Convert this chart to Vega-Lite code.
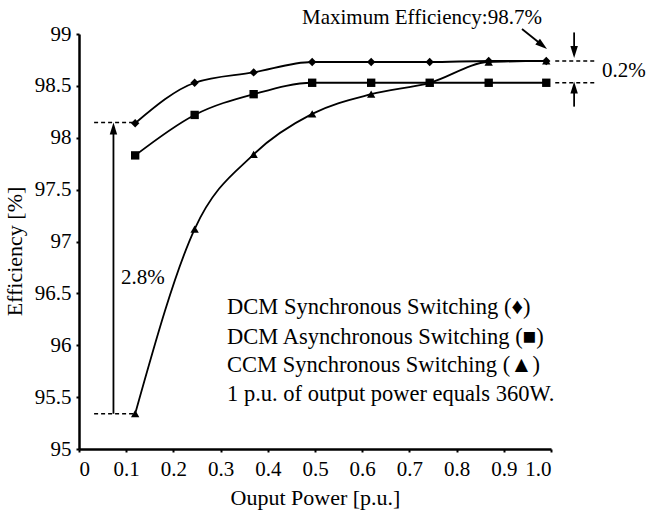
{
  "$schema": "https://vega.github.io/schema/vega-lite/v6.json",
  "width": 472,
  "height": 415,
  "autosize": {"type": "none"},
  "padding": {"left": 79, "top": 34, "right": 97, "bottom": 62},
  "background": "white",
  "config": {
    "view": {"stroke": null},
    "font": "Liberation Serif",
    "axis": {
      "domainColor": "black", "domainWidth": 2.5, "tickColor": "black", "tickWidth": 2, "tickSize": 3,
      "labelColor": "black", "labelFont": "Liberation Serif", "labelFontSize": 21,
      "titleColor": "black", "titleFont": "Liberation Serif", "titleFontSize": 22, "titleFontWeight": "normal",
      "grid": false
    }
  },
  "datasets": {
    "curves": [
      {"series": "DCM Sync", "power": 0.119, "eff": 98.14},
      {"series": "DCM Sync", "power": 0.245, "eff": 98.53},
      {"series": "DCM Sync", "power": 0.37, "eff": 98.63},
      {"series": "DCM Sync", "power": 0.494, "eff": 98.73},
      {"series": "DCM Sync", "power": 0.619, "eff": 98.73},
      {"series": "DCM Sync", "power": 0.743, "eff": 98.73},
      {"series": "DCM Sync", "power": 0.868, "eff": 98.74},
      {"series": "DCM Sync", "power": 0.99, "eff": 98.74},
      {"series": "DCM Async", "power": 0.119, "eff": 97.83},
      {"series": "DCM Async", "power": 0.245, "eff": 98.22},
      {"series": "DCM Async", "power": 0.37, "eff": 98.42},
      {"series": "DCM Async", "power": 0.494, "eff": 98.53},
      {"series": "DCM Async", "power": 0.619, "eff": 98.53},
      {"series": "DCM Async", "power": 0.743, "eff": 98.53},
      {"series": "DCM Async", "power": 0.868, "eff": 98.53},
      {"series": "DCM Async", "power": 0.99, "eff": 98.53},
      {"series": "CCM Sync", "power": 0.119, "eff": 95.34},
      {"series": "CCM Sync", "power": 0.245, "eff": 97.12},
      {"series": "CCM Sync", "power": 0.37, "eff": 97.84},
      {"series": "CCM Sync", "power": 0.494, "eff": 98.23},
      {"series": "CCM Sync", "power": 0.619, "eff": 98.42},
      {"series": "CCM Sync", "power": 0.743, "eff": 98.53},
      {"series": "CCM Sync", "power": 0.868, "eff": 98.73},
      {"series": "CCM Sync", "power": 0.99, "eff": 98.74}
    ],
    "dashes": [
      {"x": 0.032, "x2": 0.119, "y": 98.147},
      {"x": 0.032, "x2": 0.119, "y": 95.34},
      {"x": 1.009, "x2": 1.097, "y": 98.74},
      {"x": 1.009, "x2": 1.097, "y": 98.53}
    ],
    "shafts": [
      {"x": 0.073, "x2": 0.073, "y": 95.34, "y2": 98.1},
      {"x": 1.049, "x2": 1.049, "y": 99.015, "y2": 98.8},
      {"x": 1.049, "x2": 1.049, "y": 98.30, "y2": 98.5},
      {"x": 0.9386, "x2": 0.9816, "y": 99.048, "y2": 98.891}
    ],
    "heads": [
      {"x": 0.073, "y": 98.09, "angle": 0},
      {"x": 1.049, "y": 98.826, "angle": 180},
      {"x": 1.049, "y": 98.485, "angle": 0},
      {"x": 0.9816, "y": 98.891, "angle": 128.7}
    ],
    "notes": [
      {"x": 0.089, "y": 96.65, "label": "2.8%"},
      {"x": 1.108, "y": 98.64, "label": "0.2%"},
      {"x": 0.4725, "y": 99.157, "label": "Maximum Efficiency:98.7%"}
    ],
    "legendText": [
      {"x": 0.3136, "y": 96.373, "label": "DCM Synchronous Switching (♦)"},
      {"x": 0.3136, "y": 96.083, "label": "DCM Asynchronous Switching (■)"},
      {"x": 0.3136, "y": 95.81, "label": "CCM Synchronous Switching (▲)"},
      {"x": 0.3136, "y": 95.53, "label": "1 p.u. of output power equals 360W."}
    ]
  },
  "layer": [
    {
      "data": {"name": "curves"},
      "mark": {"type": "line", "interpolate": "monotone", "color": "black", "strokeWidth": 1.8},
      "encoding": {
        "x": {"field": "power", "type": "quantitative",
              "scale": {"domain": [0, 1], "nice": false, "zero": false},
              "axis": {"values": [0, 0.1, 0.2, 0.3, 0.4, 0.5, 0.6, 0.7, 0.8, 0.9, 1.0],
                       "labelExpr": "datum.value == 0 ? '0' : format(datum.value, '.1f')",
                       "labelPadding": 6, "title": "Ouput Power [p.u.]", "titlePadding": 8}},
        "y": {"field": "eff", "type": "quantitative",
              "scale": {"domain": [95, 99], "nice": false, "zero": false},
              "axis": {"values": [95, 95.5, 96, 96.5, 97, 97.5, 98, 98.5, 99],
                       "labelExpr": "format(datum.value, '~g')",
                       "labelPadding": 5, "title": "Efficiency [%]", "titlePadding": 8, "titleY": 217}},
        "detail": {"field": "series"}
      }
    },
    {
      "data": {"name": "curves"},
      "mark": {"type": "point", "filled": true, "color": "black", "opacity": 1},
      "encoding": {
        "x": {"field": "power", "type": "quantitative"},
        "y": {"field": "eff", "type": "quantitative"},
        "shape": {"field": "series", "type": "nominal",
                  "scale": {"domain": ["DCM Sync", "DCM Async", "CCM Sync"], "range": ["diamond", "square", "triangle-up"]},
                  "legend": null},
        "size": {"field": "series", "type": "nominal",
                 "scale": {"domain": ["DCM Sync", "DCM Async", "CCM Sync"], "range": [70, 70, 90]},
                 "legend": null}
      }
    },
    {
      "data": {"name": "dashes"},
      "mark": {"type": "rule", "color": "black", "strokeWidth": 1.5, "strokeDash": [4, 3]},
      "encoding": {
        "x": {"field": "x", "type": "quantitative"},
        "x2": {"field": "x2"},
        "y": {"field": "y", "type": "quantitative"}
      }
    },
    {
      "data": {"name": "shafts"},
      "mark": {"type": "rule", "color": "black", "strokeWidth": 1.8},
      "encoding": {
        "x": {"field": "x", "type": "quantitative"},
        "x2": {"field": "x2"},
        "y": {"field": "y", "type": "quantitative"},
        "y2": {"field": "y2"}
      }
    },
    {
      "data": {"name": "heads"},
      "mark": {"type": "point", "filled": true, "color": "black", "opacity": 1, "size": 144,
               "shape": "M0,-1L-0.62,1L0.62,1Z"},
      "encoding": {
        "x": {"field": "x", "type": "quantitative"},
        "y": {"field": "y", "type": "quantitative"},
        "angle": {"field": "angle", "type": "quantitative", "scale": null}
      }
    },
    {
      "data": {"name": "notes"},
      "mark": {"type": "text", "align": "left", "baseline": "middle", "font": "Liberation Serif", "fontSize": 21, "color": "black"},
      "encoding": {
        "x": {"field": "x", "type": "quantitative"},
        "y": {"field": "y", "type": "quantitative"},
        "text": {"field": "label"}
      }
    },
    {
      "data": {"name": "legendText"},
      "mark": {"type": "text", "align": "left", "baseline": "middle", "font": "Liberation Serif", "fontSize": 22.5, "color": "black"},
      "encoding": {
        "x": {"field": "x", "type": "quantitative"},
        "y": {"field": "y", "type": "quantitative"},
        "text": {"field": "label"}
      }
    }
  ]
}
